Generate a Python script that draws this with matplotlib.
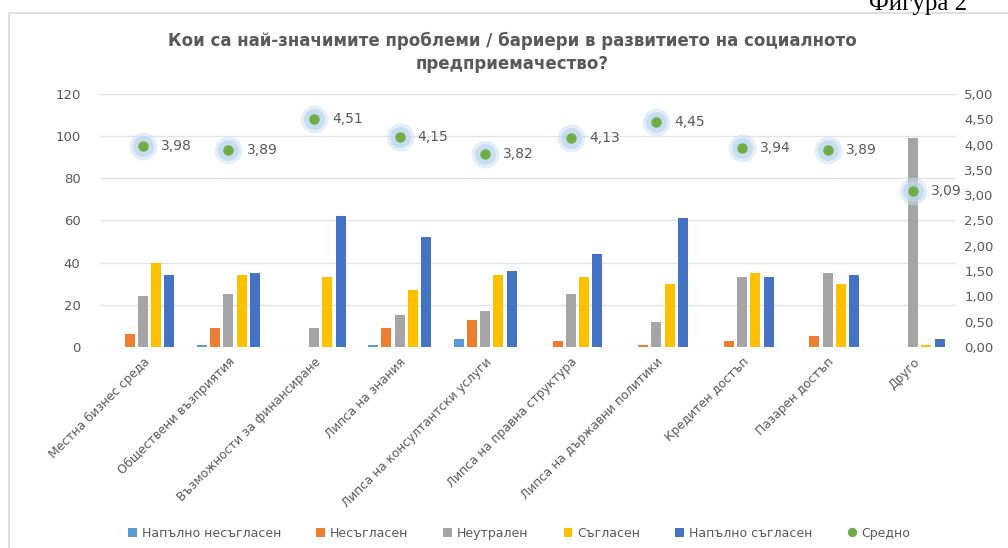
import matplotlib.pyplot as plt
import numpy as np
from matplotlib.patches import Rectangle
from matplotlib.ticker import FuncFormatter

categories = ["Местна бизнес среда", "Обществени възприятия", "Възможности за финансиране",
              "Липса на знания", "Липса на консултантски услуги", "Липса на правна структура",
              "Липса на държавни политики", "Кредитен достъп", "Пазарен достъп", "Друго"]
napalno_nesaglasen = [0, 1, 0, 1, 4, 0, 0, 0, 0, 0]
nesaglasen = [6, 9, 0, 9, 13, 3, 1, 3, 5, 0]
neutralen = [24, 25, 9, 15, 17, 25, 12, 33, 35, 99]
saglasen = [40, 34, 33, 27, 34, 33, 30, 35, 30, 1]
napalno_saglasen = [34, 35, 62, 52, 36, 44, 61, 33, 34, 4]
sredno = [3.98, 3.89, 4.51, 4.15, 3.82, 4.13, 4.45, 3.94, 3.89, 3.09]

series = [("Напълно несъгласен", napalno_nesaglasen, "#5B9BD5"),
          ("Несъгласен", nesaglasen, "#ED7D31"),
          ("Неутрален", neutralen, "#A5A5A5"),
          ("Съгласен", saglasen, "#FFC000"),
          ("Напълно съгласен", napalno_saglasen, "#4472C4")]

txt = "#595959"
fig = plt.figure(figsize=(10.08, 5.48), dpi=100)
ax = fig.add_axes([0.0992, 0.3668, 0.8492, 0.4617])

x = np.arange(len(categories))
step = 0.155
w = 0.117
for i, (name, vals, col) in enumerate(series):
    ax.bar(x + (i - 2) * step, vals, w, color=col, label=name, zorder=3)

ax.set_xlim(-0.5, len(categories) - 0.5)
ax.set_ylim(0, 120)
ax.set_yticks(range(0, 121, 20))
ax.grid(axis="y", color="#E3E3E3", linewidth=1, zorder=0)
for s in ax.spines.values():
    s.set_visible(False)
ax.tick_params(axis="both", length=0, labelsize=9.5, labelcolor=txt)
ax.tick_params(axis="y", pad=14)
ax.tick_params(axis="x", pad=6)
ax.set_xticks(x)
ax.set_xticklabels(categories, rotation=45, ha="right", rotation_mode="anchor", fontsize=8.7, color=txt)

ax2 = ax.twinx()
ax2.set_ylim(0, 5)
ax2.set_yticks(np.arange(0, 5.01, 0.5))
ax2.yaxis.set_major_formatter(FuncFormatter(lambda v, p: f"{v:.2f}".replace(".", ",")))
for s in ax2.spines.values():
    s.set_visible(False)
ax2.tick_params(axis="y", length=0, labelsize=9.5, labelcolor=txt, pad=6)
ax2.plot(x, sredno, "o", ms=20, color="#C9DFF2", alpha=0.5, mec="none", zorder=4)
ax2.plot(x, sredno, "o", ms=15, color="#BDD7EE", alpha=0.7, mec="none", zorder=4)
ax2.plot(x, sredno, "o", ms=7.5, color="#70AD47", mec="none", label="Средно", zorder=5)
for xi, v in zip(x, sredno):
    ax2.annotate(f"{v:.2f}".replace(".", ","), (xi, v), xytext=(13, 0), textcoords="offset points",
                 va="center", ha="left", fontsize=10, color=txt)

fig.text(0.508, 0.905, "Кои са най-значимите проблеми / бариери в развитието на социалното\nпредприемачество?",
         ha="center", va="center", fontsize=12, fontweight="bold", color=txt, linespacing=1.35)

h1, l1 = ax.get_legend_handles_labels()
h2, l2 = ax2.get_legend_handles_labels()
fig.legend(h1 + h2, l1 + l2, loc="center", bbox_to_anchor=(0.515, 0.027), ncol=6, frameon=False,
           fontsize=9, labelcolor=txt, handlelength=0.7, handleheight=0.7, columnspacing=2.8,
           handletextpad=0.4, markerscale=0.9)

fig.patches.append(Rectangle((9 / 1008, -0.01), 1.0, 1 - 13 / 548 + 0.01, transform=fig.transFigure,
                             fill=False, edgecolor="#D9D9D9", linewidth=1.2))
fig.text(0.959, 1 - 10 / 548, "Фигура 2", ha="right", va="baseline", fontsize=18,
         family="Liberation Serif", color="black")

fig.savefig("out.png", dpi=100, facecolor="white")
